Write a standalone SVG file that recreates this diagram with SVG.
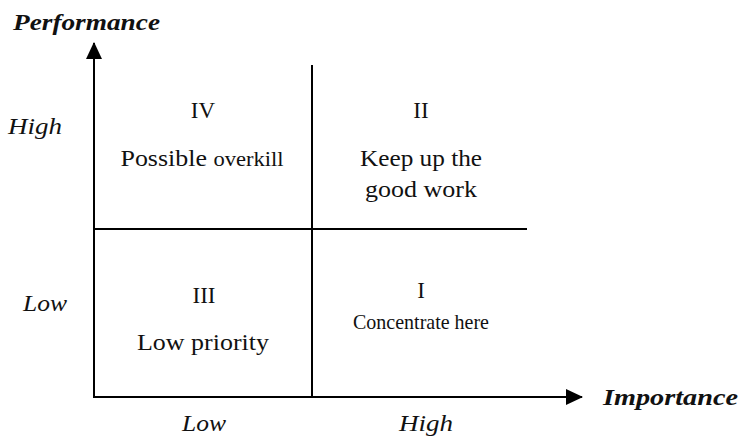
<svg xmlns="http://www.w3.org/2000/svg" width="742" height="437" viewBox="0 0 742 437">
  <style>
    .ln { stroke: #000; stroke-width: 2; fill: none; }
    .t { font-family: "Liberation Serif", "DejaVu Serif", serif; font-size: 23px; fill: #111; text-anchor: middle; }
    .sm { font-size: 20px; }
    .md { font-size: 22px; }
    .ax { font-family: "Liberation Serif", "DejaVu Serif", serif; font-size: 23px; font-style: italic; fill: #111; text-anchor: middle; }
    .ttl { font-family: "Liberation Serif", "DejaVu Serif", serif; font-size: 24px; font-style: italic; font-weight: bold; fill: #111; }
  </style>
  <defs>
    <marker id="arrow" markerWidth="17" markerHeight="16" refX="16" refY="8" orient="auto" markerUnits="userSpaceOnUse" viewBox="0 0 17 16">
      <path d="M0,0 L17,8 L0,16 Z" fill="#000"/>
    </marker>
  </defs>
  <rect width="742" height="437" fill="#fff"/>

  <g id="connectors">
    <!-- axes -->
    <line class="ln" x1="94" y1="398" x2="94" y2="43" marker-end="url(#arrow)"/>
    <line class="ln" x1="93" y1="397" x2="582" y2="397" marker-end="url(#arrow)"/>
    <!-- quadrant dividers -->
    <line class="ln" x1="312" y1="65" x2="312" y2="397"/>
    <line class="ln" x1="94" y1="229" x2="527" y2="229"/>
  </g>

  <g id="axis-performance">
    <text class="ttl" x="13" y="30" textLength="147" lengthAdjust="spacingAndGlyphs">Performance</text>
    <text class="ax" x="35" y="134" textLength="54" lengthAdjust="spacingAndGlyphs">High</text>
    <text class="ax" x="45" y="311" textLength="44" lengthAdjust="spacingAndGlyphs">Low</text>
  </g>

  <g id="axis-importance">
    <text class="ttl" x="603" y="405" textLength="135" lengthAdjust="spacingAndGlyphs">Importance</text>
    <text class="ax" x="204" y="431" textLength="44" lengthAdjust="spacingAndGlyphs">Low</text>
    <text class="ax" x="426" y="431" textLength="54" lengthAdjust="spacingAndGlyphs">High</text>
  </g>

  <g id="quadrant-IV">
    <text class="t" x="203" y="118">IV</text>
    <text class="t" x="202" y="166" textLength="163" lengthAdjust="spacingAndGlyphs">Possible <tspan class="sm">overkill</tspan></text>
  </g>

  <g id="quadrant-II">
    <text class="t" x="421" y="118">II</text>
    <text class="t" x="421" y="166" textLength="122" lengthAdjust="spacingAndGlyphs">Keep up the</text>
    <text class="t" x="421" y="197" textLength="112" lengthAdjust="spacingAndGlyphs">good work</text>
  </g>

  <g id="quadrant-III">
    <text class="t" x="204" y="303">III</text>
    <text class="t" x="203" y="350" textLength="132" lengthAdjust="spacingAndGlyphs">Low priority</text>
  </g>

  <g id="quadrant-I">
    <text class="t" x="421" y="298">I</text>
    <text class="t md" x="421" y="329" textLength="136" lengthAdjust="spacingAndGlyphs">Concentrate here</text>
  </g>
</svg>
